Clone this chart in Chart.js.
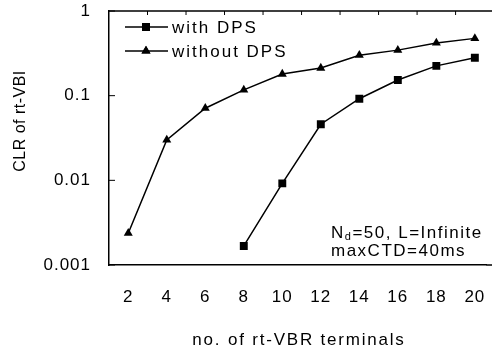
<!DOCTYPE html>
<html>
<head>
<meta charset="utf-8">
<script src="https://cdn.jsdelivr.net/npm/chart.js@4.4.0/dist/chart.umd.min.js"></script>
<style>
  html, body { margin: 0; padding: 0; background: #fff; }
</style>
</head>
<body>
<canvas id="chart" width="492" height="352"></canvas>
<script>
// values
const terminals = [2, 4, 6, 8, 10, 12, 14, 16, 18, 20];
const withDps = [null, null, null, 0.00168, 0.0092, 0.046, 0.092, 0.153, 0.225, 0.28];
const withoutDps = [0.00237, 0.030, 0.071, 0.117, 0.18, 0.212, 0.30, 0.345, 0.42, 0.475];
const xTicks = [2, 4, 6, 8, 10, 12, 14, 16, 18, 20];
const yTicks = [0.001, 0.01, 0.1, 1];
const yTickLabels = ['0.001', '0.01', '0.1', '1'];
const seriesNames = ['with DPS', 'without DPS'];

const FONT = "'Liberation Sans', Arial, sans-serif";

function toPoints(values) {
    return terminals.map((x, i) => ({ x: x, y: values[i] })).filter(p => p.y !== null);
}

function spaced(ctx, px) {
    ctx.letterSpacing = px + 'px';
}

// frame, inward ticks, legend, annotation, axis titles
const decorations = {
    id: 'decorations',
    beforeLayout(chart) { spaced(chart.ctx, 1); },
    beforeDraw(chart) { spaced(chart.ctx, 1); },
    afterDraw(chart) {
        const ctx = chart.ctx;
        const area = chart.chartArea;
        const x = chart.scales.x;
        const y = chart.scales.y;
        ctx.save();
        ctx.strokeStyle = '#000';
        ctx.fillStyle = '#000';
        ctx.lineWidth = 1.5;

        // top frame line, runs off the right edge like the original
        ctx.beginPath();
        ctx.moveTo(area.left, area.top);
        ctx.lineTo(chart.width, area.top);
        ctx.moveTo(area.right, area.bottom);
        ctx.lineTo(chart.width, area.bottom);
        ctx.stroke();

        // inward major ticks on the y axis
        ctx.lineWidth = 1;
        yTicks.forEach(v => {
            const py = y.getPixelForValue(v);
            ctx.beginPath();
            ctx.moveTo(area.left, py);
            ctx.lineTo(area.left + 6, py);
            ctx.stroke();
        });
        // small ticks hanging from the top frame
        for (let v = 3; v <= 19; v += 2) {
            const px = x.getPixelForValue(v);
            ctx.beginPath();
            ctx.moveTo(px, area.top);
            ctx.lineTo(px, area.top + 4);
            ctx.stroke();
        }

        // legend
        const styles = ['rect', 'triangle'];
        const radii = [5.6, 5.2];
        const rows = [27, 51];
        ctx.font = '17px ' + FONT;
        ctx.textBaseline = 'middle';
        ctx.textAlign = 'left';
        spaced(ctx, 2);
        rows.forEach((ry, i) => {
            ctx.lineWidth = 1.5;
            ctx.beginPath();
            ctx.moveTo(125, ry);
            ctx.lineTo(168, ry);
            ctx.stroke();
            Chart.helpers.drawPoint(ctx, { pointStyle: styles[i], radius: radii[i], rotation: 0 }, 146, ry);
            ctx.fill();
            ctx.fillText(seriesNames[i], 172, ry + 1);
        });

        // annotation
        spaced(ctx, 1.5);
        let ax = 331;
        ctx.fillText('N', ax, 233);
        ax += ctx.measureText('N').width;
        ctx.font = '11px ' + FONT;
        ctx.fillText('d', ax, 237);
        ax += ctx.measureText('d').width;
        ctx.font = '17px ' + FONT;
        ctx.fillText('=50, L=Infinite', ax, 233);
        ctx.fillText('maxCTD=40ms', 331, 251);

        // axis titles
        spaced(ctx, 1.8);
        ctx.textAlign = 'center';
        ctx.fillText('no. of rt-VBR terminals', 299, 340);
        ctx.translate(21, 121);
        ctx.rotate(-Math.PI / 2);
        ctx.font = '16px ' + FONT;
        spaced(ctx, 0.5);
        ctx.fillText('CLR of rt-VBI', 0, 0);
        ctx.restore();
    }
};

new Chart(document.getElementById('chart'), {
    type: 'line',
    data: {
        datasets: [
            {
                label: seriesNames[0],
                data: toPoints(withDps),
                borderColor: '#000',
                backgroundColor: '#000',
                borderWidth: 1.5,
                pointStyle: 'rect',
                pointRadius: 5.6,
                pointBorderWidth: 0,
                tension: 0
            },
            {
                label: seriesNames[1],
                data: toPoints(withoutDps),
                borderColor: '#000',
                backgroundColor: '#000',
                borderWidth: 1.5,
                pointStyle: 'triangle',
                pointRadius: 5.2,
                pointBorderWidth: 0,
                tension: 0
            }
        ]
    },
    options: {
        responsive: false,
        animation: false,
        devicePixelRatio: 1,
        layout: { padding: { top: 11, left: 0, right: 0, bottom: 0 } },
        plugins: {
            legend: { display: false },
            tooltip: { enabled: false }
        },
        scales: {
            x: {
                type: 'linear',
                min: 1,
                max: 20.6,
                afterBuildTicks: s => { s.ticks = xTicks.map(v => ({ value: v })); },
                afterFit: s => { s.height = 87; s.paddingLeft = 0; s.paddingRight = 0; },
                grid: { display: false },
                border: { color: '#000', width: 1.5 },
                ticks: {
                    color: '#000',
                    padding: 14,
                    font: { family: FONT, size: 17 },
                    maxRotation: 0,
                    callback: v => String(v)
                }
            },
            y: {
                type: 'logarithmic',
                min: 0.001,
                max: 1,
                afterBuildTicks: s => { s.ticks = yTicks.map(v => ({ value: v })); },
                afterFit: s => { s.width = 109; s.paddingTop = 0; s.paddingBottom = 0; },
                grid: { display: false },
                border: { color: '#000', width: 1.5 },
                ticks: {
                    color: '#000',
                    padding: 10,
                    font: { family: FONT, size: 17 },
                    callback: (v) => yTickLabels[yTicks.indexOf(v)]
                }
            }
        }
    },
    plugins: [decorations]
});
</script>
</body>
</html>
